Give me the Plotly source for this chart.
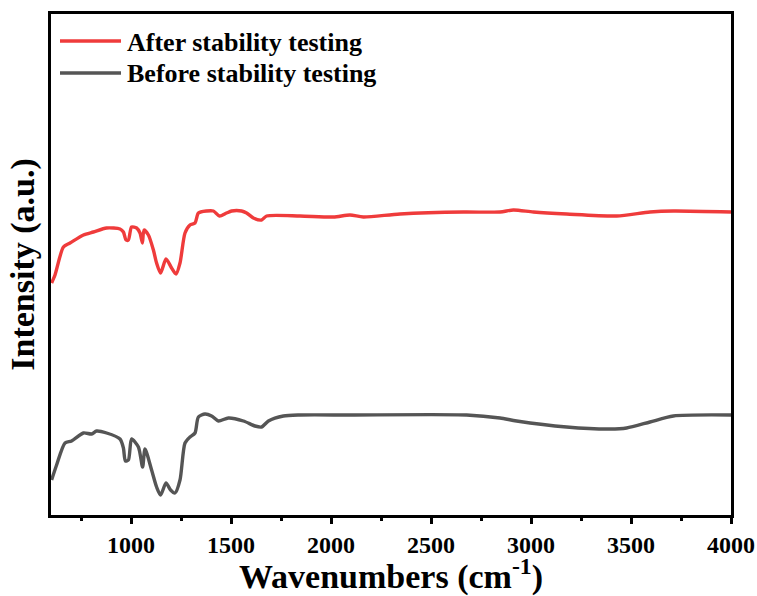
import plotly.graph_objects as go

# Wavenumbers (cm-1) and intensities (a.u.)
after_wn = [603, 620, 662, 695, 762, 812, 878, 945, 962, 975, 987, 1003, 1028, 1045, 1057, 1065,
            1087, 1112, 1128, 1148, 1175, 1203, 1225, 1245, 1270, 1295, 1320, 1337, 1378, 1412,
            1442, 1478, 1503, 1553, 1578, 1612, 1653, 1678, 1845, 2012, 2095, 2162, 2345, 2662,
            2845, 2912, 3012, 3178, 3428, 3595, 3712, 4000]
after_int = [317, 325, 353, 357, 365, 368, 372, 371, 368, 360, 360, 373, 372, 367, 357, 370,
             365, 350, 337, 327, 341, 332, 326, 337, 367, 375, 377, 387, 389, 389,
             384, 387, 389, 389, 387, 382, 380, 384, 384, 383, 385, 383, 386, 388,
             388, 390, 388, 386, 384, 388, 389, 388]

before_wn = [603, 628, 670, 703, 762, 803, 828, 878, 945, 962, 972, 987, 1003, 1037, 1058, 1070,
             1103, 1128, 1148, 1175, 1198, 1220, 1245, 1270, 1295, 1320, 1337, 1370, 1403, 1437,
             1487, 1562, 1620, 1653, 1687, 1762, 1845, 2095, 2678, 2845, 2928, 3178, 3395, 3478,
             3595, 3712, 4000]
before_int = [120, 135, 157, 159, 167, 166, 169, 167, 161, 152, 139, 140, 161, 153, 133, 151,
              130, 113, 105, 117, 110, 107, 120, 157, 163, 167, 183, 186, 184, 179,
              182, 179, 174, 173, 179, 184, 185, 185, 185, 182, 179, 173, 171, 172,
              178, 184, 185]

series_names = ["After stability testing", "Before stability testing"]
series_colors = ["#EF3B3B", "#555555"]

FONT = "Liberation Serif"

fig = go.Figure()
for wn, inten, name, col in [(after_wn, after_int, series_names[0], series_colors[0]),
                             (before_wn, before_int, series_names[1], series_colors[1])]:
    fig.add_trace(go.Scatter(x=wn, y=inten, mode="lines", name=name, showlegend=False,
                             line=dict(color=col, width=3.4, shape="spline", smoothing=0.7)))

# manual legend (lines + labels), in paper coordinates
L, R, T, B = 51, 731, 14, 515
def px(x):
    return (x - L) / (R - L)
def py(y):
    return (B - y) / (B - T)

for i, (name, col) in enumerate(zip(series_names, series_colors)):
    yy = 41 + 32 * i
    fig.add_shape(type="line", xref="paper", yref="paper",
                  x0=px(60), x1=px(121), y0=py(yy), y1=py(yy),
                  line=dict(color=col, width=3.4))
    fig.add_annotation(xref="paper", yref="paper", x=px(125), y=py(yy + 1),
                       xanchor="left", yanchor="middle", showarrow=False,
                       text="<b>" + name + "</b>",
                       font=dict(family=FONT, size=26, color="black"))

fig.update_layout(
    width=757, height=596,
    margin=dict(l=L, r=757 - R, t=T, b=596 - B),
    paper_bgcolor="white", plot_bgcolor="white",
    font=dict(family=FONT, color="black"),
    xaxis=dict(range=[600, 4000], showgrid=False, zeroline=False, automargin=False,
               showline=True, linecolor="black", linewidth=3, mirror=True,
               ticks="outside", ticklen=6, tickwidth=2.5, tickcolor="black",
               tick0=1000, dtick=500, ticklabelstandoff=0,
               tickfont=dict(family=FONT, size=24, color="black", weight="bold"),
               minor=dict(ticks="outside", ticklen=3, tickwidth=2.5, tickcolor="black",
                          dtick=250, tick0=750, showgrid=False),
               title=dict(text="<b>Wavenumbers (cm<sup>-1</sup>)</b>", standoff=3,
                          font=dict(family=FONT, size=34, color="black"))),
    yaxis=dict(range=[85, 586], showgrid=False, zeroline=False, automargin=False,
               showline=True, linecolor="black", linewidth=3, mirror=True,
               ticks="", showticklabels=False,
               title=dict(text="<b>Intensity (a.u.)</b>", standoff=4,
                          font=dict(family=FONT, size=34, color="black"))),
)

fig.write_html("out.html")
